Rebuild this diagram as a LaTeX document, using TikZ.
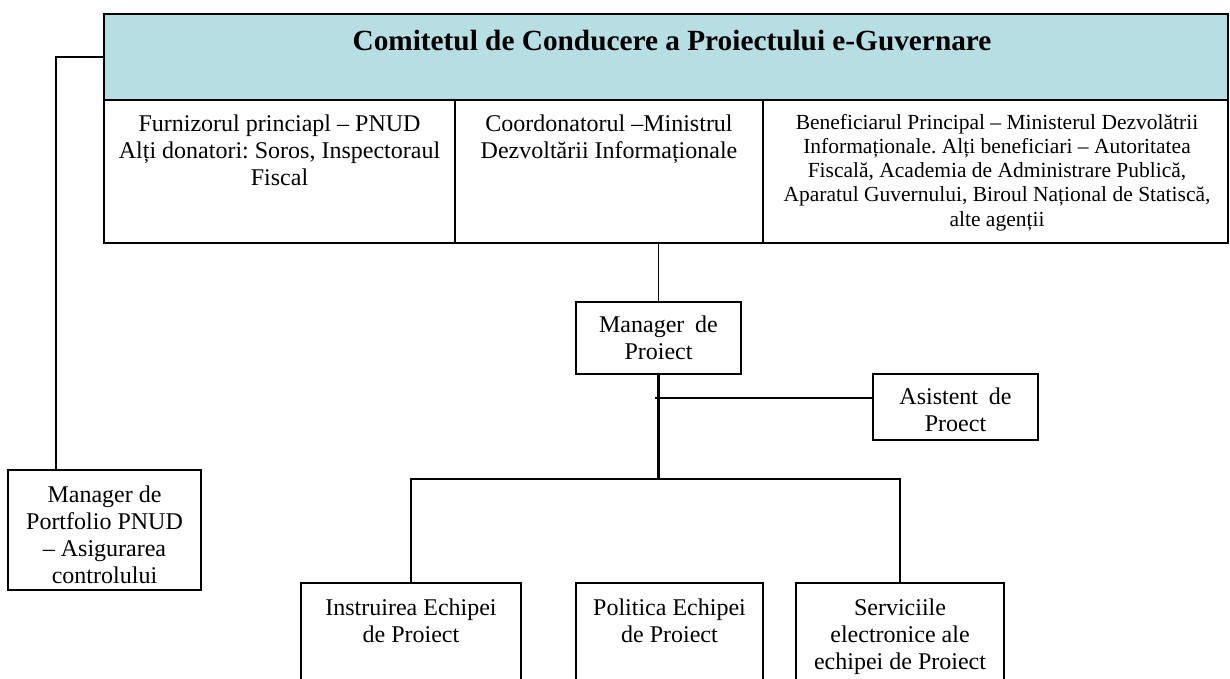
\documentclass[tikz,border=0pt]{standalone}
\usepackage{fontspec}
\setmainfont{Liberation Serif}
\usetikzlibrary{calc}
\definecolor{hdrfill}{RGB}{183,222,227}
\frenchspacing
\begin{document}
\begin{tikzpicture}[x=0.5pt,y=-0.5pt,
  box/.style={draw, line width=0.9pt, inner sep=0pt, outer sep=0pt, rectangle},
  txt/.style={align=center, inner sep=0pt, anchor=north, font=\fontsize{12}{13.65}\selectfont},
  smalltxt/.style={align=center, inner sep=0pt, anchor=north, font=\fontsize{10.75}{12.15}\selectfont},
  link/.style={line width=0.8pt},
  trunk/.style={line width=1.3pt}]
\useasboundingbox (0,0) rectangle (1230,679);
\clip (0,0) rectangle (1230,679);

% boxes
\node[box, fill=hdrfill, minimum width=562pt, minimum height=43pt] (hdr) at (666,57) {};
\node[box, minimum width=175.5pt, minimum height=71.5pt] (c1) at (279.5,171.5) {};
\node[box, minimum width=154pt, minimum height=71.5pt] (c2) at (609,171.5) {};
\node[box, minimum width=232.5pt, minimum height=71.5pt] (c3) at (995.5,171.5) {};
\node[box, minimum width=82.5pt, minimum height=36pt] (mp) at (658.5,338) {};
\node[box, minimum width=82.5pt, minimum height=33pt] (asist) at (955.5,407) {};
\node[box, minimum width=96.5pt, minimum height=60pt] (pf) at (104.5,530) {};
\node[box, minimum width=110pt, minimum height=58.5pt] (ins) at (411,641.5) {};
\node[box, minimum width=93.5pt, minimum height=58.5pt] (pol) at (669.5,641.5) {};
\node[box, minimum width=104pt, minimum height=58.5pt] (serv) at (900,641.5) {};

% texts
\node[anchor=base, inner sep=0pt, font=\fontsize{14.65}{17}\selectfont\bfseries] (title) at (672,51) {Comitetul de Conducere a Proiectului e-Guvernare};
\node[txt] (t1) at (279.5,114) {Furnizorul princiapl – PNUD\\Alți donatori: Soros, Inspectoraul\\Fiscal};
\node[txt] (t2) at (609,114) {Coordonatorul –Ministrul\\Dezvoltării Informaționale};
\node[smalltxt] (t3) at (997,113.5) {Beneficiarul Principal – Ministerul Dezvolătrii\\Informaționale. Alți beneficiari – Autoritatea\\Fiscală, Academia de Administrare Publică,\\Aparatul Guvernului, Biroul Național de Statiscă,\\alte agenții};
\node[txt] (t4) at (658.5,315) {Manager\hspace{0.45em}de\\Proiect};
\node[txt] (t5) at (955.5,387) {Asistent\hspace{0.45em}de\\Proect};
\node[txt] (t6) at (104.5,485) {Manager de\\Portfolio PNUD\\– Asigurarea\\controlului};
\node[txt] (t7) at (411,598) {Instruirea Echipei\\de Proiect};
\node[txt] (t8) at (669.5,598) {Politica Echipei\\de Proiect};
\node[txt] (t9) at (900,598) {Serviciile\\electronice ale\\echipei de Proiect};

% connectors
\coordinate (pftop) at ($(pf.north west)!0.25!(pf.north east)$);
\draw[link] (hdr.west) -| (pftop);
\draw[link] (mp.north) -- (mp.north |- c2.south);
\coordinate (bus) at (658.5,479);
\draw[trunk] (mp.south) -- (bus);
\coordinate (aj) at (655,398);
\draw[link] (aj) -- (aj -| asist.west);
\draw[link] (ins.north) |- (bus) -| (serv.north);
\end{tikzpicture}
\end{document}
